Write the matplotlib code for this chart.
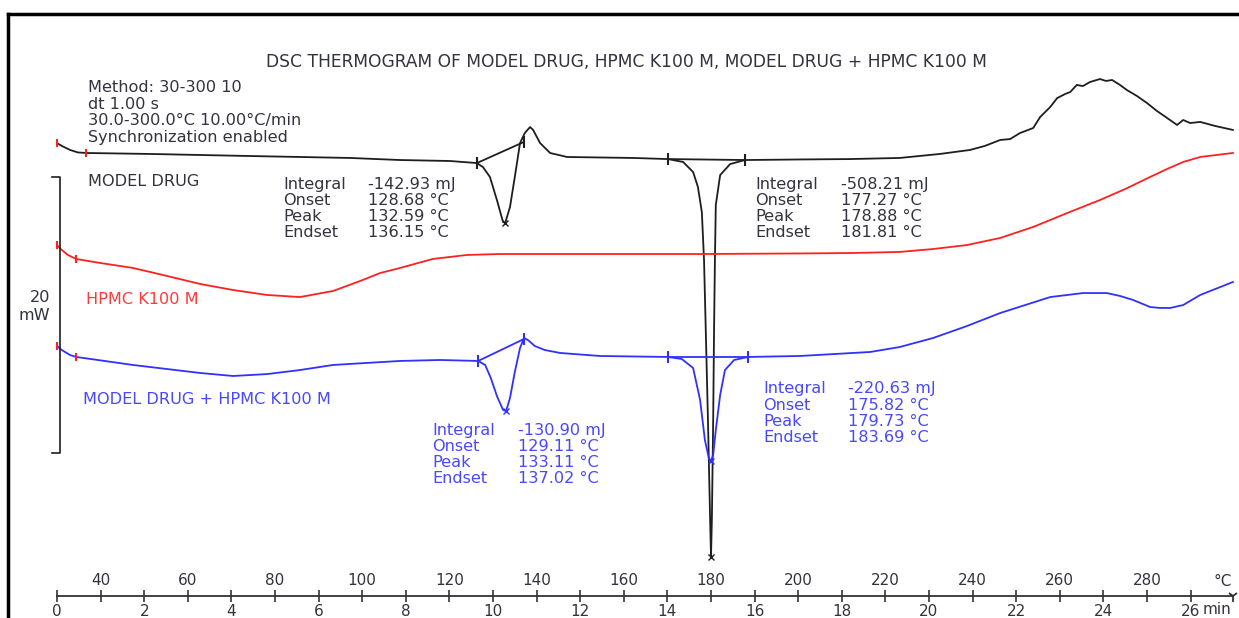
import matplotlib
matplotlib.use("Agg")
import matplotlib.pyplot as plt
from matplotlib.lines import Line2D

# heat flow curves: time (min) and heat flow (mW, curves are offset)
drug_t = [0.00, 0.11, 0.30, 0.48, 0.67, 2.13, 4.43, 6.72, 7.87, 9.01, 9.63,
          9.77, 9.93, 10.09, 10.23, 10.28, 10.39, 10.50, 10.62, 10.73, 10.85,
          10.92, 11.08, 11.31, 11.70, 13.21, 14.01, 14.36, 14.59, 14.70, 14.79,
          14.84, 14.88, 14.93, 14.98, 15.00, 15.02, 15.05, 15.07, 15.09, 15.11,
          15.21, 15.44, 15.78, 17.04, 18.19, 19.33, 20.25, 20.94, 21.28, 21.63,
          21.86, 22.09, 22.39, 22.55, 22.78, 22.94, 23.12, 23.24, 23.39, 23.53,
          23.69, 23.92, 24.06, 24.20, 24.38, 24.54, 24.77, 25.00, 25.23, 25.46,
          25.69, 25.83, 25.99, 26.22, 26.56, 26.97]
drug_mw = [22.46, 22.25, 21.96, 21.78, 21.74, 21.67, 21.52, 21.38, 21.23, 21.16, 21.01,
           20.72, 20.00, 18.33, 16.74, 16.67, 17.83, 20.00, 22.46, 23.19, 23.62,
           23.41, 22.46, 21.74, 21.45, 21.38, 21.30, 21.09, 20.36, 19.28, 17.46,
           13.99, 8.91, 2.39, -4.86, -7.54, -4.86, 2.39, 8.91, 13.99, 17.97,
           20.14, 20.94, 21.23, 21.27, 21.30, 21.38, 21.67, 21.96, 22.25, 22.68,
           22.75, 23.19, 23.55, 24.35, 25.07, 25.72, 26.01, 26.16, 26.67, 26.59,
           26.88, 27.10, 26.96, 27.03, 26.67, 26.30, 25.87, 25.36, 24.78, 24.28,
           23.77, 24.13, 23.91, 23.99, 23.70, 23.41]

hpmc_t = [0.00, 0.11, 0.25, 0.44, 0.99, 1.74, 2.52, 3.28, 4.04, 4.82, 5.57,
          6.33, 6.95, 7.41, 7.87, 8.62, 9.40, 10.16, 12.45, 14.75, 17.04, 18.19,
          19.33, 20.09, 20.87, 21.63, 22.39, 23.17, 23.92, 24.50, 25.07, 25.46,
          25.83, 26.22, 26.97]
hpmc_mw = [15.07, 14.71, 14.35, 14.06, 13.77, 13.41, 12.83, 12.25, 11.81, 11.45, 11.30,
           11.74, 12.46, 13.04, 13.41, 14.06, 14.35, 14.42, 14.42, 14.42, 14.46, 14.49,
           14.57, 14.78, 15.07, 15.58, 16.38, 17.39, 18.33, 19.13, 20.00, 20.58,
           21.09, 21.45, 21.74]

mix_t = [0.00, 0.11, 0.30, 0.44, 1.74, 3.28, 4.04, 4.82, 5.57, 6.33, 7.87,
         8.78, 9.66, 9.82, 9.95, 10.09, 10.23, 10.30, 10.39, 10.50, 10.62,
         10.71, 10.80, 10.96, 11.19, 11.54, 12.45, 14.01, 14.33, 14.59, 14.75,
         14.86, 14.95, 15.00, 15.05, 15.11, 15.21, 15.32, 15.53, 15.85, 17.04,
         18.65, 19.33, 20.09, 20.87, 21.63, 22.78, 23.53, 24.08, 24.38, 24.68,
         25.07, 25.30, 25.53, 25.83, 26.22, 26.97]
mix_mw = [7.75, 7.46, 7.10, 6.96, 6.38, 5.80, 5.58, 5.72, 6.01, 6.38, 6.67,
          6.74, 6.67, 6.38, 5.43, 4.13, 3.12, 3.04, 3.99, 5.87, 7.61,
          8.33, 8.19, 7.75, 7.46, 7.25, 7.03, 6.96, 6.81, 6.16, 3.84,
          0.94, -0.36, -0.58, -0.14, 1.67, 4.20, 6.01, 6.74, 6.96, 7.03,
          7.32, 7.68, 8.33, 9.20, 10.14, 11.30, 11.59, 11.59, 11.38, 11.09,
          10.58, 10.51, 10.51, 10.72, 11.45, 12.39]

# evaluation limits (baselines) and peaks
drug_base1_t, drug_base1_mw = [9.63, 10.71], [21.01, 22.54]
drug_base2_t, drug_base2_mw = [14.01, 15.78], [21.30, 21.23]
drug_peak_t, drug_peak_mw = [10.28, 15.00], [16.67, -7.54]
mix_base1_t, mix_base1_mw = [9.66, 10.71], [6.67, 8.26]
mix_base2_t, mix_base2_mw = [14.01, 15.85], [6.96, 6.96]
mix_peak_t, mix_peak_mw = [10.30, 15.00], [3.04, -0.58]

# start marks
drug_start_t, drug_start_mw = [0.0, 0.67], [22.46, 21.74]
hpmc_start_t, hpmc_start_mw = [0.0, 0.44], [15.07, 14.06]
mix_start_t, mix_start_mw = [0.0, 0.44], [7.75, 6.96]

eval_labels = ["Integral", "Onset", "Peak", "Endset"]
drug_eval1 = ["-142.93 mJ", "128.68 °C", "132.59 °C", "136.15 °C"]
drug_eval2 = ["-508.21 mJ", "177.27 °C", "178.88 °C", "181.81 °C"]
mix_eval1 = ["-130.90 mJ", "129.11 °C", "133.11 °C", "137.02 °C"]
mix_eval2 = ["-220.63 mJ", "175.82 °C", "179.73 °C", "183.69 °C"]

method_lines = ["Method: 30-300 10", "dt 1.00 s", "30.0-300.0°C 10.00°C/min",
                "Synchronization enabled"]
min_ticks = list(range(0, 27, 2))
temp_ticks = list(range(40, 281, 20))

W, H = 1239, 618
BLACK = "#1e1e1e"
RED = "#ff2020"
BLUE = "#3030ff"
TXT = "#333340"
TXT_BLUE = "#4848ff"
TXT_RED = "#ff3a3a"
FS = 11.6

fig = plt.figure(figsize=(W / 100, H / 100), dpi=100)
ax = fig.add_axes([0, 0, 1, 1])
ax.set_xlim(-57 / 43.6, (W - 57) / 43.6)
ax.set_ylim((453 - H) / 13.8, 453 / 13.8)
axis_y = (453 - 596) / 13.8


def fp(x, y):
    # pixel position -> figure fraction
    return x / W, 1 - y / H


# curves
ax.plot(drug_t, drug_mw, color=BLACK, lw=1.3)
ax.plot(hpmc_t, hpmc_mw, color=RED, lw=1.3)
ax.plot(mix_t, mix_mw, color=BLUE, lw=1.3)

# start marks
for st, sm in [(drug_start_t, drug_start_mw), (hpmc_start_t, hpmc_start_mw),
               (mix_start_t, mix_start_mw)]:
    ax.plot(st, sm, ls="none", marker="|", ms=6, mew=1.5, color=RED)

# baselines and peaks
for bt, bm, c in [(drug_base1_t, drug_base1_mw, BLACK), (drug_base2_t, drug_base2_mw, BLACK),
                  (mix_base1_t, mix_base1_mw, BLUE), (mix_base2_t, mix_base2_mw, BLUE)]:
    ax.plot(bt, bm, color=c, lw=1.3, marker="|", ms=8, mew=1.5)
ax.plot(drug_peak_t, drug_peak_mw, ls="none", marker="x", ms=4, mew=1, color=BLACK)
ax.plot(mix_peak_t, mix_peak_mw, ls="none", marker="x", ms=4, mew=1, color=BLUE)

# 20 mW scale bar
ax.plot([-0.11, 0.07, 0.07, -0.11], [20, 20, 0, 0], color=BLACK, lw=1.2)
ax.text(*fp(40, 298), "20", transform=fig.transFigure, ha="center", va="center",
        fontsize=FS, color=TXT)
ax.text(*fp(34, 316), "mW", transform=fig.transFigure, ha="center", va="center",
        fontsize=FS, color=TXT)

# time axis
for s in ["left", "right", "top"]:
    ax.spines[s].set_visible(False)
ax.spines["bottom"].set_position(("data", axis_y))
ax.spines["bottom"].set_bounds(0, 26.97)
ax.spines["bottom"].set_color("#333333")
ax.spines["bottom"].set_linewidth(1.3)
ax.set_yticks([])
ax.set_xticks(min_ticks)
ax.set_xticklabels([str(v) for v in min_ticks])
ax.tick_params(axis="x", direction="inout", length=9, width=1.2, colors="#333333",
               labelcolor=TXT, labelsize=11, pad=1.5)
ax.plot([26.97], [axis_y], marker="1", ms=8, mew=1.3, color="#333333", clip_on=False)

# temperature axis
sec = ax.secondary_xaxis(1 - 596 / H, functions=(lambda t: 30 + 10 * t,
                                                 lambda T: (T - 30) / 10))
sec.set_alignment("top")
sec.spines["top"].set_visible(False)
sec.spines["bottom"].set_visible(False)
sec.set_xticks(temp_ticks)
sec.tick_params(axis="x", direction="inout", length=9, width=1.2, colors="#333333",
                labelcolor=TXT, labelsize=11, pad=1.5)
ax.text(*fp(1223, 581), "°C", transform=fig.transFigure, ha="center", va="center",
        fontsize=11, color=TXT)
ax.text(*fp(1203, 610), "min", transform=fig.transFigure, ha="left", va="center",
        fontsize=11, color=TXT)

# texts
ax.text(*fp(626, 62), "DSC THERMOGRAM OF MODEL DRUG, HPMC K100 M, MODEL DRUG + HPMC K100 M",
        transform=fig.transFigure, ha="center", va="center", fontsize=12.3, color=TXT)
for i, line in enumerate(method_lines):
    ax.text(*fp(88, 88 + 16.4 * i), line, transform=fig.transFigure, ha="left",
            va="center", fontsize=FS, color=TXT)
ax.text(*fp(88, 181), "MODEL DRUG", transform=fig.transFigure, ha="left", va="center",
        fontsize=FS, color=TXT)
ax.text(*fp(86, 300), "HPMC K100 M", transform=fig.transFigure, ha="left", va="center",
        fontsize=FS, color=TXT_RED)
ax.text(*fp(83, 400), "MODEL DRUG + HPMC K100 M", transform=fig.transFigure, ha="left",
        va="center", fontsize=FS, color=TXT_BLUE)

for (lx, vx, y0, vals, c) in [(283, 368, 184, drug_eval1, TXT), (755, 841, 184, drug_eval2, TXT),
                              (432, 518, 430, mix_eval1, TXT_BLUE),
                              (763, 848, 389, mix_eval2, TXT_BLUE)]:
    for i, (lab, val) in enumerate(zip(eval_labels, vals)):
        ax.text(*fp(lx, y0 + 16.2 * i), lab, transform=fig.transFigure, ha="left",
                va="center", fontsize=FS, color=c)
        ax.text(*fp(vx, y0 + 16.2 * i), val, transform=fig.transFigure, ha="left",
                va="center", fontsize=FS, color=c)

# frame of the printout
fig.add_artist(Line2D([8 / W, 1], [1 - 14 / H, 1 - 14 / H], color="black", lw=2.5,
                      transform=fig.transFigure))
fig.add_artist(Line2D([8 / W, 8 / W], [0, 1 - 14 / H], color="black", lw=2.5,
                      transform=fig.transFigure))

fig.savefig("out.png", dpi=100)
